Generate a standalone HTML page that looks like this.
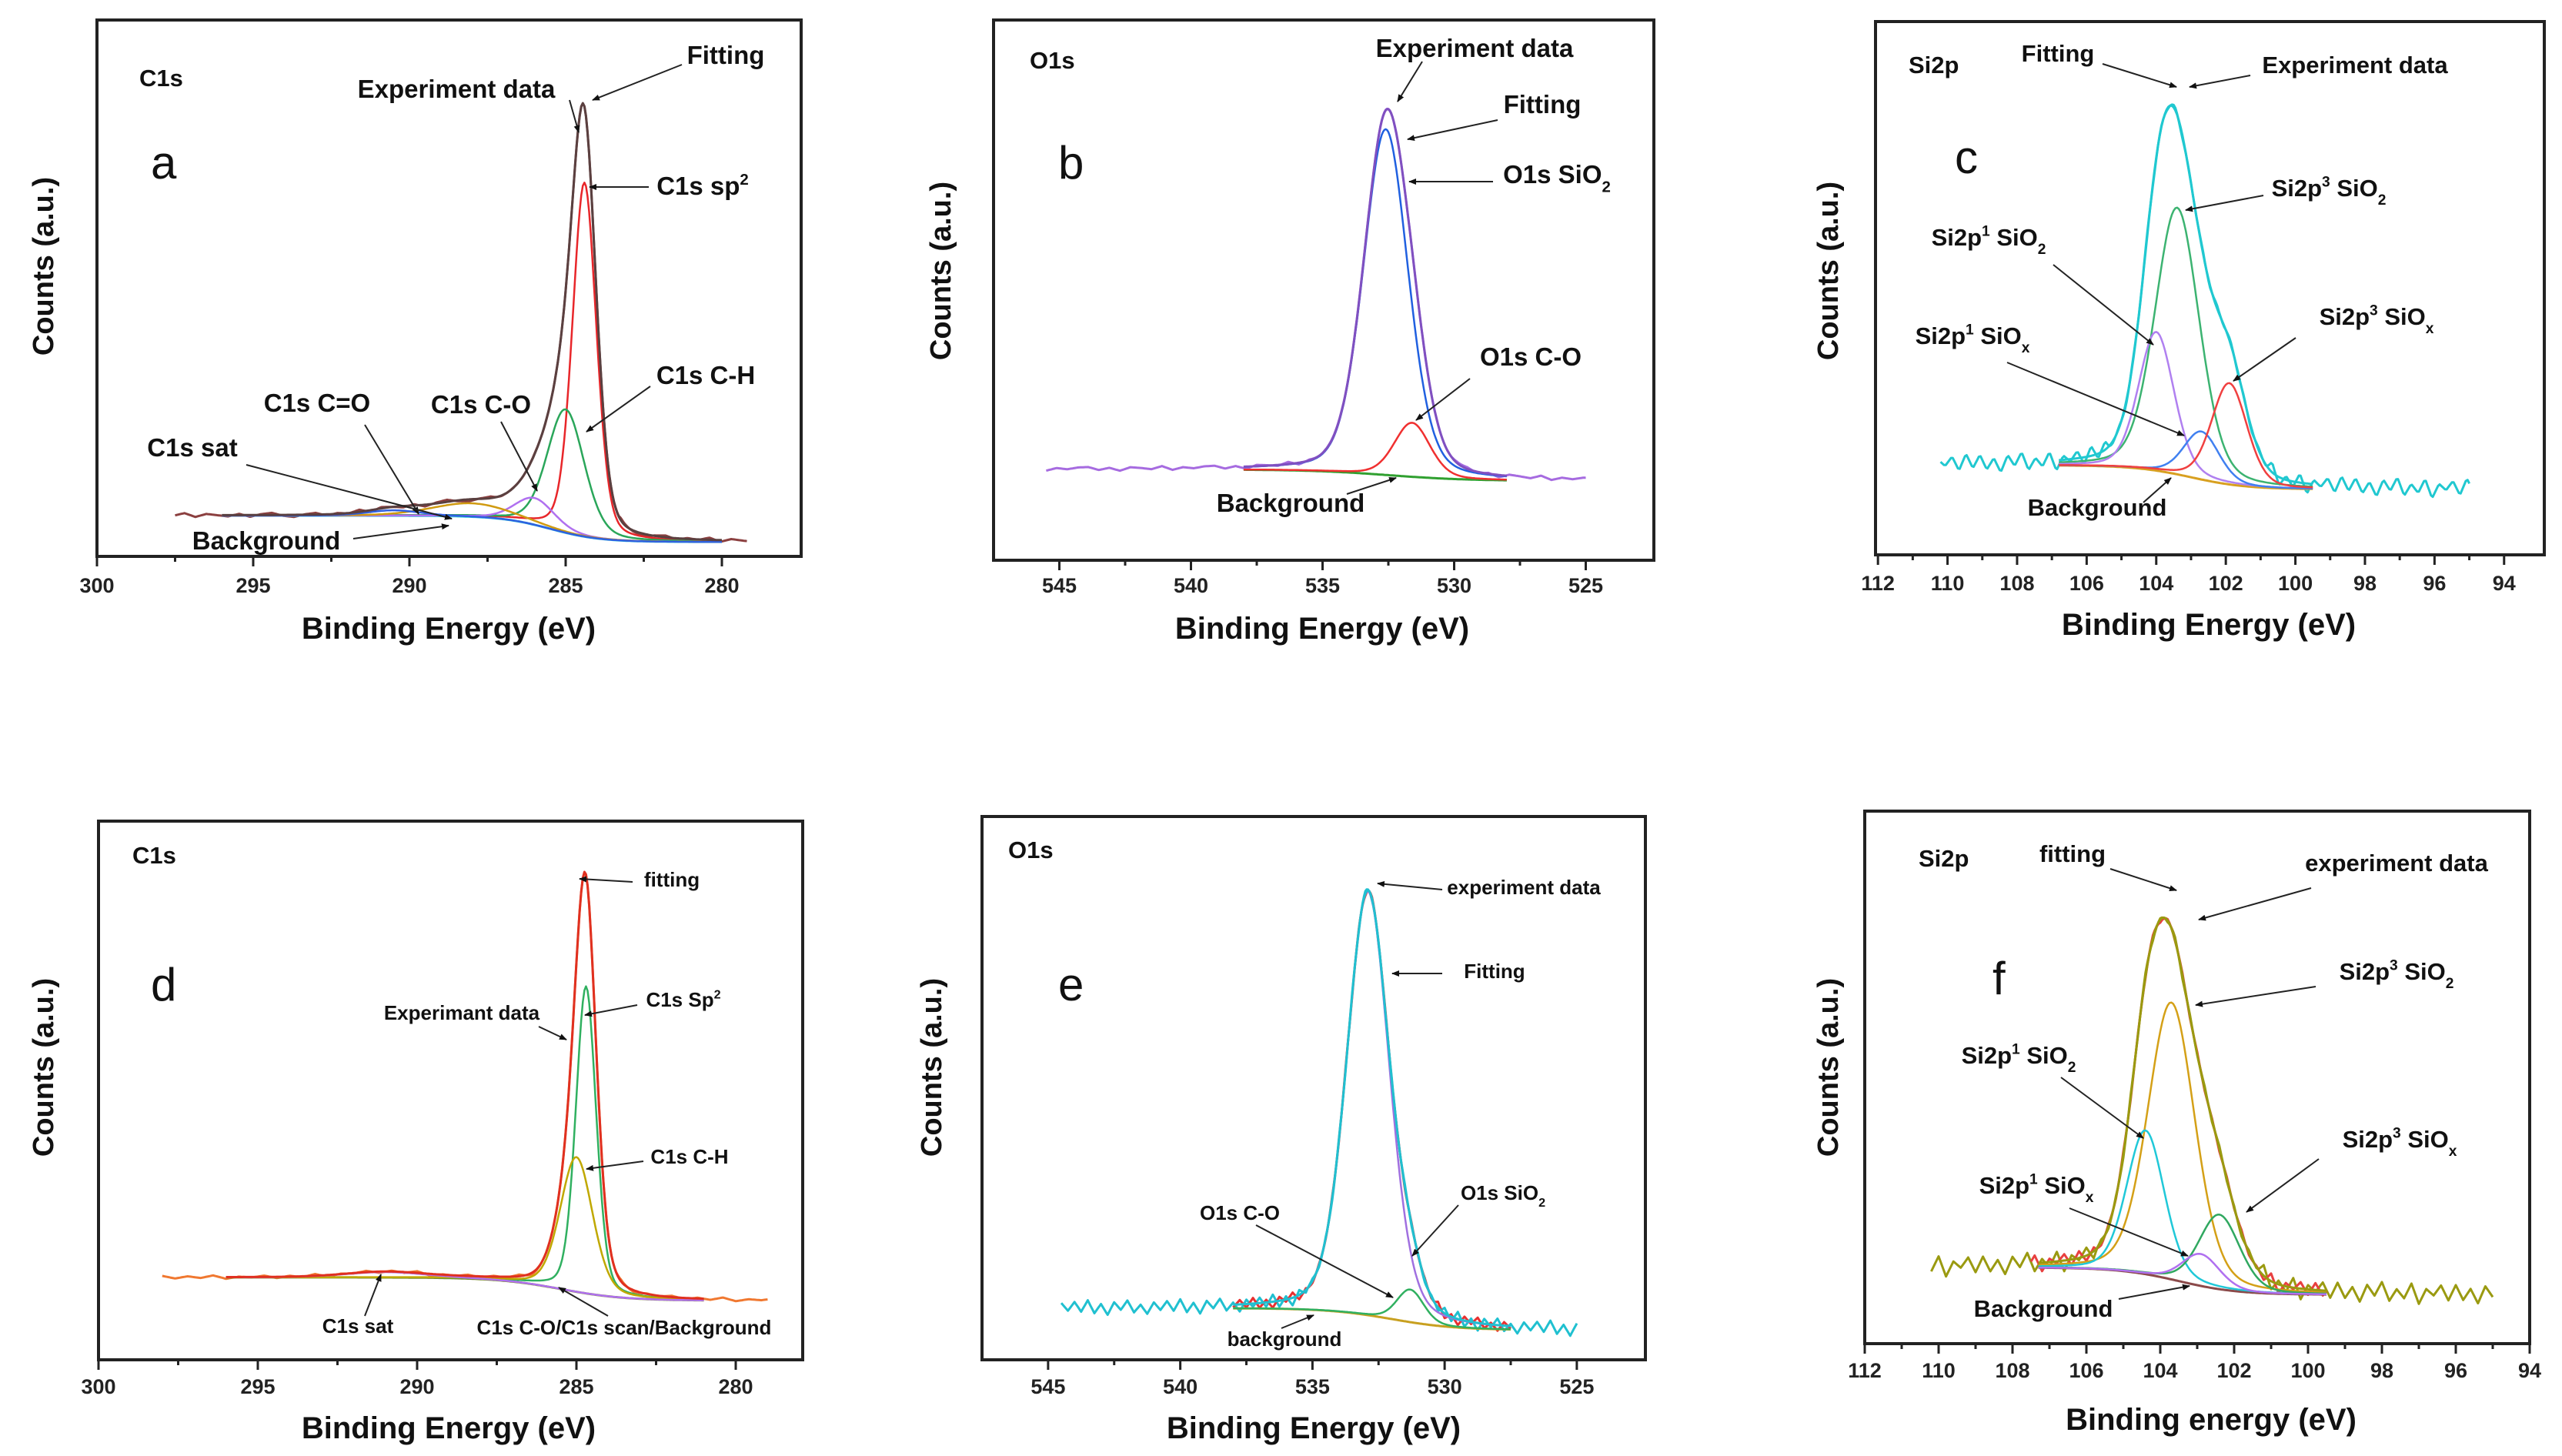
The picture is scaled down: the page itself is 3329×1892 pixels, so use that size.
<!DOCTYPE html>
<html><head><meta charset="utf-8">
<style>
html,body{margin:0;padding:0;background:#fff;}
svg{display:block;font-family:"Liberation Sans",Arial,sans-serif;}
</style></head>
<body>
<svg id="fig" width="3329" height="1892" viewBox="0 0 3329 1892" xmlns="http://www.w3.org/2000/svg">
<defs>
<marker id="ah" viewBox="0 0 10 10" refX="9" refY="5" markerWidth="5" markerHeight="5" orient="auto"><path d="M0,1 L10,5 L0,9 z" fill="#111"/></marker>
</defs>
</svg>
<script>
// ---------- DATA ----------
// panel a: C1s
const aCenters=[284.4,285.0,286.0,288.0,290.5];
const aHeights=[66,23,5,2.5,1];
const aWidths=[0.9,1.4,1.5,3.0,2.0];
const aBackground=[7.6,2.7];
const aNoise=[0.3,-0.4,0.2,0.5,-0.2,-0.5,0.1,0.4,-0.3,0.2,-0.1,0.5,-0.4,0.3,0.0,-0.3];
// panel b: O1s
const bCenters=[532.6,531.6];
const bHeights=[64,10];
const bWidths=[2.0,1.6];
const bBackground=[16.8,14.7];
const bNoise=[0.4,-0.3,0.2,-0.5,0.3,0.1,-0.2,0.5,-0.4,0.2,-0.1,0.3];
// panel c: Si2p
const cCenters=[103.4,104.0,102.7,101.9];
const cHeights=[50,26,9,19];
const cWidths=[1.5,1.2,1.2,1.2];
const cBackground=[16.8,12.3];
const cNoise=[2.0,-1.5,1.2,-2.2,1.8,-0.8,2.4,-1.9,0.9,-1.2,2.1,-2.4,1.0,-0.5,1.7,-1.6,2.3,-1.1];
// panel d: C1s
const dCenters=[284.7,285.0,291.0];
const dHeights=[57,25,1.0];
const dWidths=[0.75,1.2,3.0];
const dBackground=[15.3,11.0];
const dNoise=[0.3,-0.3,0.2,-0.2,0.4,-0.4,0.1,-0.1];
// panel e: O1s
const eCenters=[532.9,531.3];
const eHeights=[78,6];
const eWidths=[1.9,1.2];
const eBackground=[9.5,5.5];
const eNoise=[1.0,-0.8,1.3,-1.1,0.6,-1.4,0.9,-0.5,1.2,-1.0,0.4,-1.3,0.8,-0.6];
// panel f: Si2p
const fCenters=[103.7,104.4,102.4,102.9];
const fHeights=[52,27,14,6];
const fWidths=[1.5,1.2,1.3,1.2];
const fBackground=[14.3,9.2];
const fNoise=[1.6,-1.2,0.9,-1.8,1.4,-0.6,2.0,-1.5,0.7,-1.0,1.8,-2.0,0.8,-0.4,1.5,-1.3];

// ---------- LAYOUT / STYLE ----------
const panels=[
 {id:'a',x0:126,x1:1041,y0:26,y1:723,vL:300,scale:40.6,ticks:[300,295,290,285,280],minor:2.5,nstep:0.35,
  title:"C1s",tx:181,ty:112,letter:'a',lx:196,ly:232,xt:[583,830],yt:[56,346],tickY:770,
  centers:aCenters,heights:aHeights,widths:aWidths,bg:aBackground,bgMid:285.5,bgW:0.8,noise:aNoise,
  compCols:['#e8262a','#2aa65a','#b070f0','#d09a10','#3060e0'],bgCol:'#20c8d8',fitCol:'#5a4040',dataCol:'#8b3f3f',
  fitRange:[296,280],dataRange:[297.5,279.2],fullCol:null,lab:33,
  labels:[["Experiment data",593,127,740,130,752,172],["Fitting",943,83,886,84,770,130],["C1s sp^2",913,253,843,243,766,243],
   ["C1s C-H",917,499,845,502,762,561],["C1s C-O",625,537,651,548,698,638],["C1s C=O",412,535,474,552,544,668],
   ["C1s sat",250,593,320,604,587,674],["Background",346,714,459,700,583,683]]},
 {id:'b',x0:1291,x1:2149,y0:26,y1:728,vL:547.5,scale:34.2,ticks:[545,540,535,530,525],minor:2.5,nstep:0.4,
  title:"O1s",tx:1338,ty:89,letter:'b',lx:1375,ly:232,xt:[1718,830],yt:[1222,352],tickY:770,
  centers:bCenters,heights:bHeights,widths:bWidths,bg:bBackground,bgMid:532.5,bgW:1.5,noise:bNoise,
  compCols:['#2060e0','#f03030'],bgCol:'#30a030',fitCol:'#8050c0',dataCol:'#a66be0',
  fitRange:[538,528],dataRange:[545.5,525],fullCol:null,lab:33,
  labels:[["Experiment data",1916,74,1848,80,1816,132],["Fitting",2004,147,1946,156,1829,181],["O1s SiO_2",2023,238,1940,236,1831,236],
   ["O1s C-O",1989,475,1910,492,1840,546],["Background",1677,665,1750,642,1814,621]]},
 {id:'c',x0:2437,x1:3306,y0:28,y1:721,vL:112.07,scale:45.2,ticks:[112,110,108,106,104,102,100,98,96,94],minor:1,nstep:0.2,
  title:"Si2p",tx:2480,ty:95,letter:'c',lx:2540,ly:225,xt:[2870,825],yt:[2375,352],tickY:767,
  centers:cCenters,heights:cHeights,widths:cWidths,bg:cBackground,bgMid:103.0,bgW:0.8,noise:cNoise,
  compCols:['#3cb371','#b080f0','#4080f0','#f04040'],bgCol:'#d8a020',fitCol:'#20c8d0',dataCol:'#20c8d0',
  fitRange:[106.8,99.5],dataRange:[110.2,95.0],fullCol:null,lab:31,
  labels:[["Fitting",2674,80,2732,83,2828,113],["Experiment data",3060,95,2924,98,2845,113],["Si2p^3 SiO_2",3026,255,2941,254,2840,273],
   ["Si2p^1 SiO_2",2584,319,2668,344,2798,448],["Si2p^1 SiO_x",2563,447,2608,471,2838,566],["Si2p^3 SiO_x",3088,422,2983,439,2902,495],
   ["Background",2725,670,2785,653,2821,621]]},
 {id:'d',x0:128,x1:1043,y0:1067,y1:1767,vL:300,scale:41.4,ticks:[300,295,290,285,280],minor:2.5,nstep:0.4,
  title:"C1s",tx:172,ty:1122,letter:'d',lx:196,ly:1300,xt:[583,1869],yt:[56,1387],tickY:1811,
  centers:dCenters,heights:dHeights,widths:dWidths,bg:dBackground,bgMid:285.5,bgW:1.0,noise:dNoise,
  compCols:['#30b060','#c0a800','#b070f0'],bgCol:'#7a8a30',fitCol:'#e03020',dataCol:'#f07830',
  fitRange:[296,281],dataRange:[298,279],fullCol:null,lab:26,
  labels:[["fitting",873,1152,822,1146,753,1142],["Experimant data",600,1325,700,1334,736,1351],["C1s Sp^2",888,1308,828,1306,760,1319],
   ["C1s C-H",896,1512,836,1509,762,1519],["C1s sat",465,1732,474,1710,495,1656],["C1s C-O/C1s scan/Background",811,1734,790,1710,726,1673]]},
 {id:'e',x0:1276,x1:2138,y0:1061,y1:1767,vL:547.5,scale:34.35,ticks:[545,540,535,530,525],minor:2.5,nstep:0.25,
  title:"O1s",tx:1310,ty:1115,letter:'e',lx:1375,ly:1300,xt:[1707,1869],yt:[1210,1387],tickY:1811,
  centers:eCenters,heights:eHeights,widths:eWidths,bg:eBackground,bgMid:532.0,bgW:1.2,noise:eNoise,
  compCols:['#a070e0','#30b060'],bgCol:'#c8a020',fitCol:'#20c0d0',dataCol:'#e83030',
  fitRange:[538,527.5],dataRange:[538,527.5],fullCol:'#20c0d0',fullRange:[544.5,525],lab:26,
  labels:[["experiment data",1980,1162,1874,1156,1790,1148],["Fitting",1942,1271,1874,1265,1809,1265],["O1s SiO_2",1953,1559,1895,1566,1835,1632],
   ["O1s C-O",1611,1585,1632,1592,1810,1686],["background",1669,1749,1665,1726,1707,1709]]},
 {id:'f',x0:2423,x1:3287,y0:1054,y1:1746,vL:112,scale:48,ticks:[112,110,108,106,104,102,100,98,96,94],minor:1,nstep:0.2,
  title:"Si2p",tx:2493,ty:1126,letter:'f',lx:2589,ly:1292,xt:[2873,1858],yt:[2375,1387],tickY:1790,
  centers:fCenters,heights:fHeights,widths:fWidths,bg:fBackground,bgMid:103.5,bgW:0.8,noise:fNoise,
  compCols:['#d4a017','#20c8d8','#30a860','#b070f0'],bgCol:'#8b4a4a',fitCol:'#9a9a10',dataCol:'#e84040',
  fitRange:[107.3,99.5],dataRange:[107.5,99.5],fullCol:'#9a9a10',fullRange:[110.2,95.0],lab:31,
  labels:[["fitting",2693,1120,2742,1129,2828,1157],["experiment data",3114,1132,3003,1154,2857,1195],["Si2p^3 SiO_2",3114,1273,3009,1282,2853,1306],
   ["Si2p^1 SiO_2",2623,1382,2678,1400,2785,1479],["Si2p^1 SiO_x",2646,1551,2689,1570,2843,1632],["Si2p^3 SiO_x",3118,1491,3013,1506,2919,1575],
   ["Background",2655,1711,2753,1688,2845,1671]]}
];

const NS="http://www.w3.org/2000/svg";
const svg=document.getElementById('fig');
function el(tag,parent){const e=document.createElementNS(NS,tag);parent.appendChild(e);return e;}
function pv(x,c,w){const d=(x-c)/w;return 0.75*Math.exp(-4*Math.LN2*d*d)+0.25/(1+4*d*d);}

function addLabelText(t,str,size){
  const re=/([\^_])(\w)/g;let last=0,m;
  while((m=re.exec(str))!==null){
    if(m.index>last){const s=el('tspan',t);s.textContent=str.slice(last,m.index);}
    const s=el('tspan',t);s.textContent=m[2];s.setAttribute('font-size',size*0.62);
    s.setAttribute('dy',m[1]==='^'?-size*0.4:size*0.35);
    const r=el('tspan',t);r.textContent='\u200B';r.setAttribute('dy',m[1]==='^'?size*0.4:-size*0.35);
    last=m.index+2;
  }
  if(last<str.length){const s=el('tspan',t);s.textContent=str.slice(last);}
}

panels.forEach(p=>{
  const g=el('g',svg);
  
  
  const X=v=>p.x0+(p.vL-v)*p.scale;
  const Y=u=>p.y1-u/100*(p.y1-p.y0);
  const bgf=x=>p.bg[1]+(p.bg[0]-p.bg[1])/(1+Math.exp(-(x-p.bgMid)/p.bgW));
  const comp=(i,x)=>p.heights[i]*pv(x,p.centers[i],p.widths[i]);
  const fit=x=>{let s=bgf(x);for(let i=0;i<p.centers.length;i++)s+=comp(i,x);return s;};
  const noiseAt=(x,off)=>{
    const n=p.noise.length;const f=Math.abs(x-p.vL)/p.nstep+off;
    const i=Math.floor(f),t=f-i;
    const v=p.noise[i%n]*(1-t)+p.noise[(i+1)%n]*t;
    const amp=(fit(x)-bgf(x))>4?0.35:1;
    return v*amp;
  };
  const path=(fn,r,col,w,name)=>{
    let d='';let k=0;
    for(let x=r[0];x>=r[1]-1e-9;x-=0.05){d+=(k?'L':'M')+X(x).toFixed(1)+','+Y(fn(x)).toFixed(1);k++;}
    const pe=el('path',g);pe.setAttribute('d',d);pe.setAttribute('fill','none');pe.setAttribute('stroke',col);pe.setAttribute('stroke-width',w);
    pe.setAttribute('stroke-linejoin','round');
    
    
  };
  const fr=el('rect',g);fr.setAttribute('x',p.x0);fr.setAttribute('y',p.y0);fr.setAttribute('width',p.x1-p.x0);fr.setAttribute('height',p.y1-p.y0);
  fr.setAttribute('fill','none');fr.setAttribute('stroke','#222');fr.setAttribute('stroke-width',4);
  
  
  const tmin=Math.min(...p.ticks),tmax=Math.max(...p.ticks);
  for(let v=tmax;v>=tmin-1e-9;v-=p.minor){
    const major=p.ticks.some(t=>Math.abs(t-v)<1e-6);
    const tk=el('line',g);tk.setAttribute('x1',X(v));tk.setAttribute('x2',X(v));tk.setAttribute('y1',p.y1);tk.setAttribute('y2',p.y1+(major?13:7));
    tk.setAttribute('stroke','#222');tk.setAttribute('stroke-width',3);
    
    
  }
  p.ticks.forEach(v=>{
    const t=el('text',g);t.setAttribute('x',X(v));t.setAttribute('y',p.tickY);t.setAttribute('text-anchor','middle');
    t.setAttribute('font-size',27);t.setAttribute('font-weight','bold');t.setAttribute('fill','#222');t.textContent=String(v);
    
    
  });
  const xt=el('text',g);xt.setAttribute('x',p.xt[0]);xt.setAttribute('y',p.xt[1]);xt.setAttribute('text-anchor','middle');
  xt.setAttribute('font-size',40);xt.setAttribute('font-weight','bold');xt.setAttribute('fill','#111');
  xt.textContent=(p.id==='f')?'Binding energy (eV)':'Binding Energy (eV)';
  
  
  const yt=el('text',g);yt.setAttribute('transform','translate('+p.yt[0]+','+p.yt[1]+') rotate(-90)');yt.setAttribute('text-anchor','middle');
  yt.setAttribute('font-size',38);yt.setAttribute('font-weight','bold');yt.setAttribute('fill','#111');yt.setAttribute('dy',13);
  yt.textContent='Counts (a.u.)';
  
  
  const tt=el('text',g);tt.setAttribute('x',p.tx);tt.setAttribute('y',p.ty);tt.setAttribute('font-size',31);tt.setAttribute('font-weight','bold');tt.setAttribute('fill','#111');tt.textContent=p.title;
  
  
  const lt=el('text',g);lt.setAttribute('x',p.lx);lt.setAttribute('y',p.ly);lt.setAttribute('font-size',60);lt.setAttribute('fill','#111');lt.textContent=p.letter;
  
  
  if(p.fullCol){path(x=>fit(x)+noiseAt(x,0),p.fullRange,p.fullCol,3,'experiment-data-full');}
  path(x=>fit(x)+noiseAt(x,3)*0.8,p.dataRange,p.dataCol,3,'experiment-data');
  path(x=>bgf(x),p.fitRange,p.bgCol,3,'background-curve');
  for(let i=0;i<p.centers.length;i++){
    path(x=>bgf(x)+comp(i,x),p.fitRange,p.compCols[i],2.5,'component-peak-'+(i+1));
  }
  path(x=>fit(x),p.fitRange,p.fitCol,3,'fitting-curve');
  p.labels.forEach(L=>{
    const ln=el('line',g);ln.setAttribute('x1',L[3]);ln.setAttribute('y1',L[4]);ln.setAttribute('x2',L[5]);ln.setAttribute('y2',L[6]);
    ln.setAttribute('stroke','#222');ln.setAttribute('stroke-width',2);ln.setAttribute('marker-end','url(#ah)');
    
    
    const t=el('text',g);t.setAttribute('x',L[1]);t.setAttribute('y',L[2]);t.setAttribute('text-anchor','middle');
    t.setAttribute('font-size',p.lab);t.setAttribute('font-weight','bold');t.setAttribute('fill','#111');
    addLabelText(t,L[0],p.lab);
    
    
  });
});
</script>
</body></html>
